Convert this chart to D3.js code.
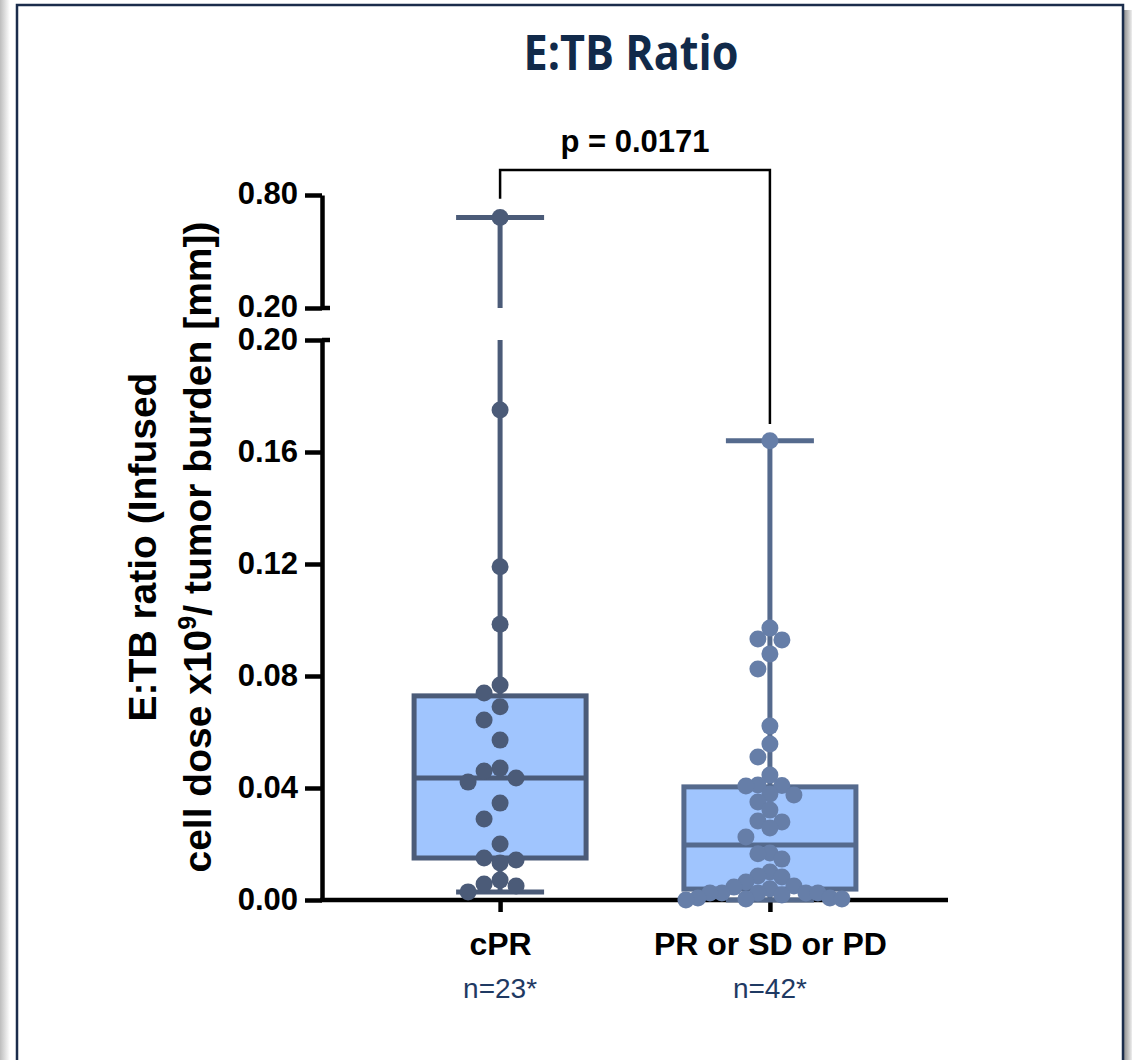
<!DOCTYPE html>
<html>
<head>
<meta charset="utf-8">
<title>E:TB Ratio</title>
<script src="https://d3js.org/d3.v7.min.js"></script>
<style>
  body { margin: 0; background: #fff; }
  svg { display: block; }
</style>
</head>
<body>
<svg id="chart"></svg>
<script>
// values
const groups = ["cPR", "PR or SD or PD"];
const groupN = ["n=23*", "n=42*"];
const cprValues = [0.680, 0.175, 0.119, 0.0985, 0.0768, 0.0739, 0.0690, 0.0643, 0.0571, 0.0471, 0.0461,
  0.0436, 0.0421, 0.0346, 0.0289, 0.0200, 0.0150, 0.0143, 0.0132, 0.0071, 0.0057, 0.0050, 0.0029];
const otherValues = [0.164, 0.0971, 0.0932, 0.0929, 0.0879, 0.0825, 0.0621, 0.0557, 0.0511, 0.0446,
  0.0411, 0.0409, 0.0407, 0.0379, 0.0375, 0.0350, 0.0321, 0.0282, 0.0279, 0.0257, 0.0225,
  0.0168, 0.0165, 0.0146, 0.0100, 0.0086, 0.0082, 0.0064, 0.0050, 0.0046, 0.0040,
  0.0025, 0.0025, 0.0025, 0.0025, 0.0025, 0.0018, 0.0007, 0.0007, 0.0004, 0.0004, 0.0000];
// quartiles [q1, median, q3]
const cprBox = [0.0150, 0.0436, 0.0729];
const otherBox = [0.0039, 0.0196, 0.0404];
const lowTicks = [0, 0.04, 0.08, 0.12, 0.16, 0.20];
const highTicks = [0.20, 0.80];
const pLabel = "p = 0.0171";

const W = 1132, H = 1060;
const svg = d3.select("#chart").attr("width", W).attr("height", H);
const defs = svg.append("defs");

// frame with a soft shadow
const gl = defs.append("linearGradient").attr("id", "shL");
gl.append("stop").attr("offset", 0).attr("stop-color", "#bdbdbd");
gl.append("stop").attr("offset", 1).attr("stop-color", "#ffffff");
const gr = defs.append("linearGradient").attr("id", "shR");
gr.append("stop").attr("offset", 0).attr("stop-color", "#8f8f8f");
gr.append("stop").attr("offset", 1).attr("stop-color", "#eeeeee");
svg.append("rect").attr("x", 0).attr("y", 0).attr("width", 10).attr("height", H).attr("fill", "url(#shL)");
svg.append("rect").attr("x", 1124).attr("y", 10).attr("width", 8).attr("height", H).attr("fill", "url(#shR)");
svg.append("rect").attr("x", 17).attr("y", 5).attr("width", 1106).attr("height", H + 20)
  .attr("fill", "#fff").attr("stroke", "#1b2d4c").attr("stroke-width", 2.5);

svg.append("text").attr("x", 631).attr("y", 70).attr("text-anchor", "middle")
  .attr("transform", "translate(631,70) scale(0.96,1.08) translate(-631,-70)")
  .style("font-family", "'Open Sans'").style("font-weight", 700).style("font-size", "45px")
  .attr("fill", "#112a4a").text("E:TB Ratio");

const axisX0 = 322, axisX1 = 948;
const x = d3.scalePoint().domain(groups).range([axisX0, axisX1]).padding(0.66);
const yLow = d3.scaleLinear().domain([0, 0.2]).range([900, 340]);
const yHigh = d3.scaleLinear().domain([0.2, 0.8]).range([308, 195]);
const yOf = v => v > 0.2 ? yHigh(v) : yLow(v);

const font = "'Liberation Sans', Arial, sans-serif";

// y axis, two segments
function styleAxis(g) {
  g.selectAll("path, line").attr("stroke", "#000").attr("stroke-width", 4.5);
  g.selectAll("text").style("font-family", font).style("font-weight", 700)
    .style("font-size", "31px").attr("fill", "#000");
}
svg.append("g").attr("transform", `translate(${axisX0},0)`)
  .call(d3.axisLeft(yLow).tickValues(lowTicks).tickFormat(d3.format(".2f")).tickSize(17).tickSizeOuter(0).tickPadding(7))
  .call(styleAxis);
svg.append("g").attr("transform", `translate(${axisX0},0)`)
  .call(d3.axisLeft(yHigh).tickValues(highTicks).tickFormat(d3.format(".2f")).tickSize(17).tickSizeOuter(0).tickPadding(7))
  .call(styleAxis)
  .call(g => g.selectAll("text").attr("dy", "0.28em"));
// break marks
[yLow(0.2), yHigh(0.2)].forEach(yy => {
  svg.append("line").attr("x1", axisX0).attr("x2", axisX0 + 8).attr("y1", yy).attr("y2", yy)
    .attr("stroke", "#000").attr("stroke-width", 4.5);
});

// x axis
svg.append("g").attr("transform", "translate(0,900)")
  .call(d3.axisBottom(x).tickSize(12).tickSizeOuter(0).tickPadding(20))
  .call(styleAxis)
  .call(g => g.selectAll("text").style("font-size", "32px"))
  .call(g => g.select(".domain").attr("d", `M${axisX0 - 2},0H${axisX1}`));

svg.selectAll(".nlab").data(groups).join("text").attr("class", "nlab")
  .attr("x", d => x(d)).attr("y", 998).attr("text-anchor", "middle")
  .style("font-family", font).style("font-size", "28px").attr("fill", "#1f3a63")
  .text((d, i) => groupN[i]);

// y axis title
const yt = svg.append("g").attr("transform", "translate(0,547) rotate(-90)")
  .style("font-family", font).style("font-weight", 700).style("font-size", "39px").attr("fill", "#000");
yt.append("text").attr("x", 0).attr("y", 156).attr("text-anchor", "middle").text("E:TB ratio (Infused");
const t2 = yt.append("text").attr("x", 0).attr("y", 211).attr("text-anchor", "middle");
t2.append("tspan").text("cell dose x10");
t2.append("tspan").attr("dy", -15).style("font-size", "25px").text("9");
t2.append("tspan").attr("dy", 15).text("/ tumor burden [mm])");

// boxes
const series = [
  { name: groups[0], values: cprValues, box: cprBox, stroke: "#4b5b78", dot: "#4b5b78", step: 16 },
  { name: groups[1], values: otherValues, box: otherBox, stroke: "#556a8d", dot: "#667ea8", step: 12 }
];
const halfBox = 86, halfCap = 44;

function vline(cx, a, b, color) {
  // draw a vertical segment across the broken axis
  const lo = Math.min(a, b), hi = Math.max(a, b);
  const parts = [];
  if (lo < 0.2) parts.push([yLow(lo), yLow(Math.min(hi, 0.2))]);
  if (hi > 0.2) parts.push([yHigh(Math.max(lo, 0.2)), yHigh(hi)]);
  parts.forEach(p => svg.append("line").attr("x1", cx).attr("x2", cx).attr("y1", p[0]).attr("y2", p[1])
    .attr("stroke", color).attr("stroke-width", 5));
}

series.forEach(s => {
  const cx = x(s.name);
  const [mn, mx] = d3.extent(s.values);
  const [q1, med, q3] = s.box;
  vline(cx, q3, mx, s.stroke);
  vline(cx, mn, q1, s.stroke);
  [mn, mx].forEach(v => svg.append("line").attr("x1", cx - halfCap).attr("x2", cx + halfCap)
    .attr("y1", yOf(v)).attr("y2", yOf(v)).attr("stroke", s.stroke).attr("stroke-width", 5));
  svg.append("rect").attr("x", cx - halfBox).attr("width", 2 * halfBox)
    .attr("y", yLow(q3)).attr("height", yLow(q1) - yLow(q3))
    .attr("fill", "#a0c5fe").attr("stroke", s.stroke).attr("stroke-width", 5);
  svg.append("line").attr("x1", cx - halfBox).attr("x2", cx + halfBox)
    .attr("y1", yLow(med)).attr("y2", yLow(med)).attr("stroke", s.stroke).attr("stroke-width", 5);
});

// column scatter: points that would overlap are pushed into side slots
function swarm(values, cx, step) {
  const placed = [];
  const pts = values.map(v => ({ v, y: yOf(v) })).sort((a, b) => a.y - b.y);
  pts.forEach(p => {
    for (let k = 0; k < 40; k++) {
      const slot = k === 0 ? 0 : (k % 2 ? -Math.ceil(k / 2) : Math.ceil(k / 2));
      if (!placed.some(q => q.slot === slot && Math.abs(q.y - p.y) < 16)) { p.slot = slot; break; }
    }
    placed.push(p);
  });
  pts.forEach(p => p.x = cx + p.slot * step);
  return pts;
}

series.forEach(s => {
  svg.append("g").selectAll("circle").data(swarm(s.values, x(s.name), s.step)).join("circle")
    .attr("cx", d => d.x).attr("cy", d => d.y).attr("r", 8.5).attr("fill", s.dot);
});

// significance bracket
const bx0 = x(groups[0]), bx1 = x(groups[1]);
svg.append("path")
  .attr("d", d3.line()([[bx0, yHigh(0.78)], [bx0, 170], [bx1, 170], [bx1, yLow(0.17)]]))
  .attr("fill", "none").attr("stroke", "#000").attr("stroke-width", 2.5);
svg.append("text").attr("x", (bx0 + bx1) / 2).attr("y", 152).attr("text-anchor", "middle")
  .style("font-family", font).style("font-weight", 700).style("font-size", "31px").text(pLabel);
</script>
</body>
</html>
